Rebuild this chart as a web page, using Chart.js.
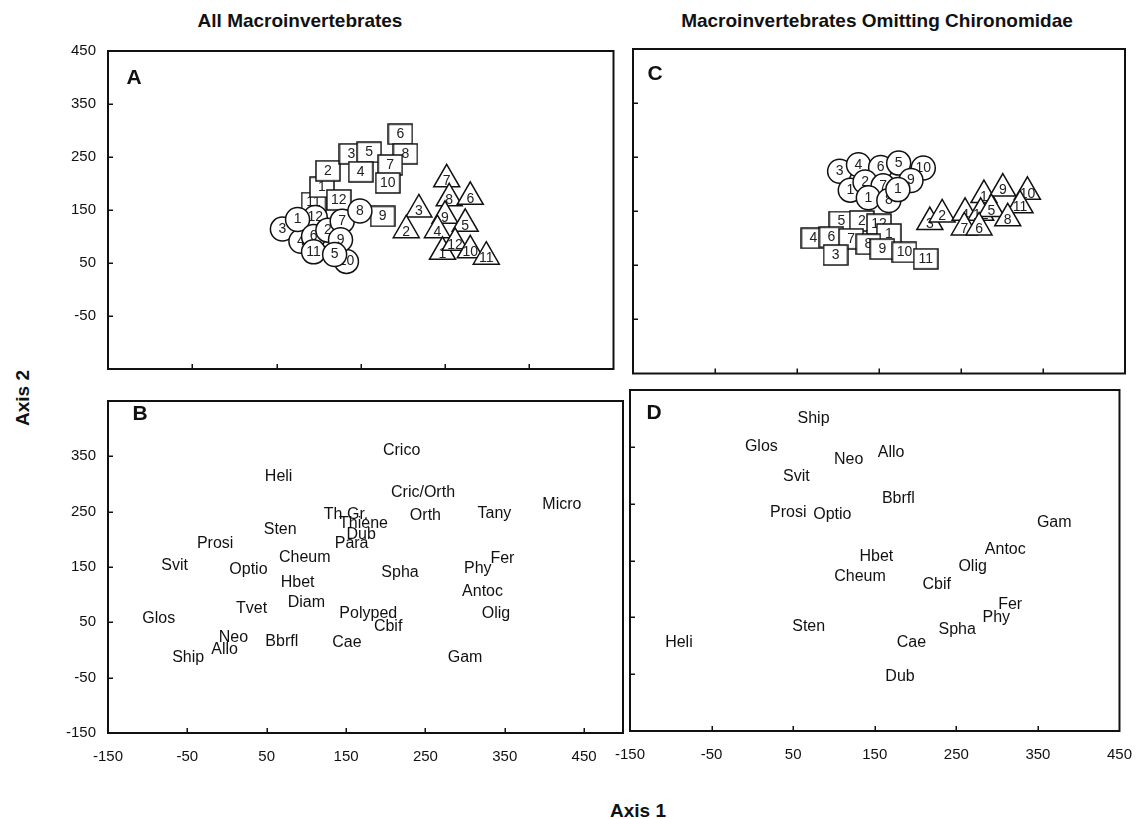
<!DOCTYPE html>
<html><head><meta charset="utf-8">
<script src="https://cdn.jsdelivr.net/npm/chart.js@4.4.1/dist/chart.umd.min.js"></script>
<style>
html,body{margin:0;padding:0;background:#fff;}
body{width:1147px;height:819px;position:relative;overflow:hidden;font-family:'Liberation Sans',Arial,sans-serif;color:#111;}
.cv{position:absolute;}
.t{position:absolute;font-weight:bold;white-space:nowrap;line-height:1;transform:translate(-50%,-50%);}
</style></head><body>
<div class="t" style="font-size:19px;left:300px;top:20px">All Macroinvertebrates</div>
<div class="t" style="font-size:19px;left:877px;top:20px">Macroinvertebrates Omitting Chironomidae</div>
<div class="t" style="font-size:19px;left:22px;top:398px;transform:translate(-50%,-50%) rotate(-90deg)">Axis 2</div>
<div class="t" style="font-size:19px;left:638px;top:810px">Axis 1</div>

<div class="cv" style="left:0px;top:30px"><canvas id="cA" width="630" height="360"></canvas></div>
<div class="cv" style="left:0px;top:380px"><canvas id="cB" width="633" height="403"></canvas></div>
<div class="cv" style="left:600px;top:30px"><canvas id="cC" width="547" height="360"></canvas></div>
<div class="cv" style="left:590px;top:381px"><canvas id="cD" width="557" height="400"></canvas></div>

<div class="t" style="font-size:21px;left:134px;top:76px">A</div>
<div class="t" style="font-size:21px;left:140px;top:412px">B</div>
<div class="t" style="font-size:21px;left:655px;top:72px">C</div>
<div class="t" style="font-size:21px;left:654px;top:411px">D</div>

<script>
// ---------- axis ticks ----------
const axisTicks = [-150, -50, 50, 150, 250, 350, 450];
const innerTicksX = [-50, 50, 150, 250, 350];
const innerTicksXB = [-50, 50, 150, 250, 350, 450];
const innerTicksY = [-50, 50, 150, 250, 350];
const labelsYA = [-50, 50, 150, 250, 350, 450];
const labelsYB = [-150, -50, 50, 150, 250, 350];
const xMaxB = 499;

// ---------- Panel A (all macroinvertebrates), listed in drawing order ----------
const aSquareNum = ["11","1","2","12","3","5","4","6","8","7","10","9"];
const aSquareX   = [94, 104, 111, 124, 139, 160, 150, 197, 203, 185, 182, 176];
const aSquareY   = [164, 193, 224, 169, 256, 259, 222, 293, 256, 235, 201, 138];

const aCircleNum = ["3","4","12","1","6","11","10","2","7","9","5","8"];
const aCircleX   = [57, 79, 96, 75, 94, 94, 133, 111, 128, 126, 119, 149];
const aCircleY   = [114, 91, 136, 132, 100, 71, 53, 112, 129, 94, 66, 148];

const aTriNum = ["7","3","2","8","6","9","4","5","1","12","10","11"];
const aTriX   = [252, 219, 204, 255, 280, 250, 241, 274, 247, 262, 280, 299];
const aTriY   = [208, 151, 112, 172, 175, 139, 112, 124, 71, 88, 74, 62];

// ---------- Panel C (omitting Chironomidae) ----------
const cCircleNum = ["3","4","6","10","5","9","1","2","7","1","8","1"];
const cCircleX   = [102, 125, 152, 204, 174, 189, 115, 133, 155, 137, 162, 173];
const cCircleY   = [224, 236, 231, 230, 239, 207, 189, 204, 197, 175, 170, 190];

const cSquareNum = ["5","2","12","1","4","6","7","3","8","9","10","11"];
const cSquareX   = [104, 129, 150, 162, 70, 92, 116, 97, 137, 154, 181, 207];
const cSquareY   = [131, 132, 126, 108, 100, 102, 99, 69, 89, 80, 74, 62];

const cTriNum = ["3","2","1","4","12","9","10","5","11","8","7","6"];
const cTriX   = [212, 227, 278, 255, 274, 301, 331, 287, 322, 307, 254, 272];
const cTriY   = [130, 144, 180, 147, 147, 192, 186, 154, 161, 137, 120, 120];

// ---------- Panel B (taxa, all) ----------
const bNames = ["Crico","Heli","Cric/Orth","Micro","Tany","Orth","Th Gr.","Thiene","Dub","Para","Sten","Prosi","Cheum","Svit","Optio","Spha","Phy","Fer","Hbet","Antoc","Diam","Tvet","Polyped","Olig","Glos","Cbif","Neo","Bbrfl","Cae","Allo","Ship","Gam"];
const bX = [220, 65, 247, 422, 337, 250, 150, 172, 169, 157, 67, -15, 98, -66, 27, 218, 316, 347, 89, 322, 100, 31, 178, 339, -86, 203, 8, 69, 151, -3, -49, 300];
const bY = [361, 313, 284, 263, 247, 242, 245, 228, 209, 192, 217, 192, 167, 153, 146, 140, 148, 165, 122, 106, 86, 75, 66, 66, 57, 42, 22, 15, 14, 0, -14, -13];

// ---------- Panel D (taxa, omitting Chironomidae) ----------
const dNames = ["Ship","Glos","Neo","Allo","Svit","Bbrfl","Prosi","Optio","Gam","Antoc","Hbet","Olig","Cheum","Cbif","Fer","Phy","Sten","Spha","Heli","Cae","Dub"];
const dX = [75, 11, 118, 170, 54, 179, 44, 98, 370, 310, 152, 270, 132, 226, 316, 299, 69, 251, -90, 195, 181];
const dY = [399, 350, 328, 340, 297, 259, 234, 231, 216, 170, 157, 140, 121, 107, 72, 49, 34, 28, 5, 6, -55];

// ---------- styles ----------
const FONT = "'Liberation Sans', Arial, sans-serif";
const INK = '#111';

function makeRectImg() {
  const c = document.createElement('canvas');
  c.width = 26; c.height = 22;
  const g = c.getContext('2d');
  g.fillStyle = '#fff'; g.fillRect(1, 1, 24, 20);
  g.strokeStyle = INK; g.lineWidth = 1.5; g.strokeRect(1, 1, 24, 20);
  return c;
}
const rectImg = makeRectImg();

const SHAPES = {
  square:   {pointStyle: rectImg, radius: 12, dy: 0},
  circle:   {pointStyle: 'circle', radius: 12, dy: 0},
  triangle: {pointStyle: 'triangle', radius: 15, dy: 2}
};

function markerDatasets(nums, xs, ys, shape) {
  const s = SHAPES[shape];
  return xs.map((x, i) => ({
    data: [{x: x, y: ys[i]}],
    pointStyle: s.pointStyle,
    pointRadius: s.radius,
    pointBorderWidth: 1.5,
    pointBorderColor: INK,
    pointBackgroundColor: '#fff',
    borderColor: INK,
    backgroundColor: '#fff',
    showLine: false,
    ptLabels: [nums[i]],
    labelFont: '14px ' + FONT,
    labelColor: '#222',
    labelDy: s.dy
  }));
}

function textDataset(names, xs, ys) {
  return {
    data: xs.map((x, i) => ({x: x, y: ys[i]})),
    pointRadius: 0,
    showLine: false,
    ptLabels: names,
    labelFont: '16px ' + FONT,
    labelColor: INK,
    labelDy: 0
  };
}

// Chart.js draws dataset 0 last (on top); reverse so list order = drawing order
function inDrawOrder(list) { return list.slice().reverse(); }

const labelPlugin = {
  id: 'ptLabels',
  afterDatasetDraw(chart, args) {
    const ds = chart.data.datasets[args.index];
    if (!ds.ptLabels) return;
    const ctx = chart.ctx;
    ctx.save();
    ctx.font = ds.labelFont;
    ctx.fillStyle = ds.labelColor;
    ctx.textAlign = 'center';
    ctx.textBaseline = 'middle';
    args.meta.data.forEach((el, i) => {
      ctx.fillText(ds.ptLabels[i], el.x, el.y + (ds.labelDy || 0));
    });
    ctx.restore();
  }
};

const framePlugin = {
  id: 'frame',
  afterDraw(chart, args, opts) {
    const ctx = chart.ctx, a = chart.chartArea, x = chart.scales.x, y = chart.scales.y;
    ctx.save();
    ctx.strokeStyle = INK;
    ctx.lineWidth = 2;
    ctx.strokeRect(a.left, a.top, a.right - a.left, a.bottom - a.top);
    ctx.lineWidth = 1.5;
    ctx.beginPath();
    (opts.xt || []).forEach(v => {
      const px = Math.round(x.getPixelForValue(v)) + 0.25;
      ctx.moveTo(px, a.bottom); ctx.lineTo(px, a.bottom - 5);
    });
    (opts.yt || []).forEach(v => {
      const py = Math.round(y.getPixelForValue(v)) + 0.25;
      ctx.moveTo(a.left, py); ctx.lineTo(a.left + 5, py);
    });
    ctx.stroke();
    ctx.restore();
  }
};

function setTicks(scale) { scale.ticks = axisTicks.map(v => ({value: v})); }

function makeChart(id, o) {
  const xScale = {
    type: 'linear', min: -150, max: o.xMax || 450,
    display: !!o.showX,
    afterBuildTicks: setTicks,
    afterFit: s => { s.height = o.showX ? 50 : 0; },
    grid: {display: false, drawTicks: false},
    border: {display: false},
    ticks: {autoSkip: false, maxRotation: 0, minRotation: 0, padding: 15,
            font: {family: FONT, size: 15}, color: INK,
            callback: v => String(v)}
  };
  const yScale = {
    type: 'linear', min: -150, max: 450,
    display: !!o.yLabels,
    afterBuildTicks: setTicks,
    afterFit: s => { s.width = o.yLabels ? 108 : 0; },
    grid: {display: false, drawTicks: false},
    border: {display: false},
    ticks: {autoSkip: false, padding: 12,
            font: {family: FONT, size: 15}, color: INK,
            callback: v => (o.yLabels && o.yLabels.includes(v)) ? String(v) : ''}
  };
  return new Chart(document.getElementById(id), {
    type: 'scatter',
    data: {datasets: o.datasets},
    options: {
      responsive: false, animation: false, events: [],
      layout: {padding: o.pad},
      plugins: {legend: {display: false}, tooltip: {enabled: false}, title: {display: false},
                frame: {xt: o.xt, yt: innerTicksY}},
      scales: {x: xScale, y: yScale}
    },
    plugins: [labelPlugin, framePlugin]
  });
}

makeChart('cA', {
  pad: {left: 0, top: 17, right: 10, bottom: 9},
  yLabels: labelsYA, xt: innerTicksX,
  datasets: inDrawOrder([].concat(
    markerDatasets(aSquareNum, aSquareX, aSquareY, 'square'),
    markerDatasets(aCircleNum, aCircleX, aCircleY, 'circle'),
    markerDatasets(aTriNum, aTriX, aTriY, 'triangle')))
});

makeChart('cB', {
  pad: {left: 0, top: 9, right: 10, bottom: 0},
  yLabels: labelsYB, showX: true, xMax: xMaxB, xt: innerTicksXB,
  datasets: [textDataset(bNames, bX, bY)]
});

makeChart('cC', {
  pad: {left: 33, top: 19, right: 22, bottom: 9},
  xt: innerTicksX,
  datasets: inDrawOrder([].concat(
    markerDatasets(cCircleNum, cCircleX, cCircleY, 'circle'),
    markerDatasets(cSquareNum, cSquareX, cSquareY, 'square'),
    markerDatasets(cTriNum, cTriX, cTriY, 'triangle')))
});

makeChart('cD', {
  pad: {left: 40, top: 9, right: 19, bottom: 0},
  showX: true, xt: innerTicksX,
  datasets: [textDataset(dNames, dX, dY)]
});
</script>
</body></html>
